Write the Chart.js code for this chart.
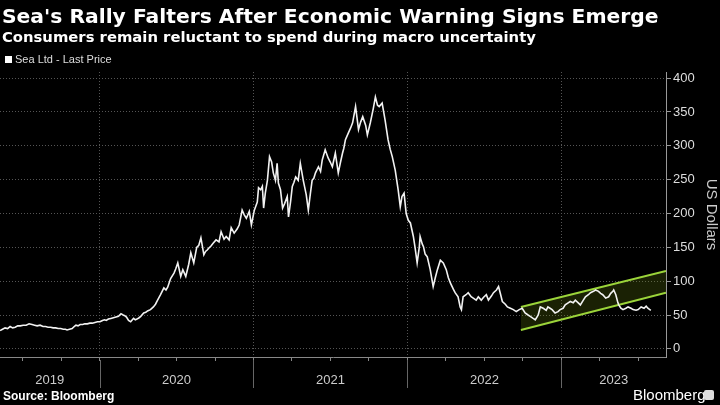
<!DOCTYPE html>
<html>
<head>
<meta charset="utf-8">
<script src="https://cdn.jsdelivr.net/npm/chart.js@4.4.0/dist/chart.umd.min.js"></script>
<style>
  body { margin: 0; background: #000; }
  #wrap { position: relative; width: 720px; height: 405px; overflow: hidden; background: #000; font-family: "Liberation Sans", Arial, sans-serif; color: #fff; }
  #chartBox { position: absolute; left: 0; top: 0; width: 720px; height: 405px; }
  .txt { position: absolute; white-space: nowrap; z-index: 2; }
  #title { left: 2px; top: 4px; font-family: "DejaVu Sans", sans-serif; font-size: 20.3px; font-weight: 700; }
  #subtitle { left: 2px; top: 28px; font-family: "DejaVu Sans", sans-serif; font-size: 14.8px; font-weight: 700; }
  #legend { left: 5px; top: 53px; font-size: 11px; color: #ddd; }
  #legend span { display: inline-block; width: 7px; height: 7px; background: #fff; margin-right: 3px; }
  #source { left: 3px; top: 389px; font-size: 12px; font-weight: 700; }
  #brand { left: 633px; top: 386px; font-size: 15px; font-weight: 500; }
  #logo { position: absolute; left: 704px; top: 390px; width: 10px; height: 10px; background: #ddd; border-radius: 2px; z-index: 2; }
</style>
</head>
<body>
<div id="wrap">
  <div class="txt" id="title">Sea's Rally Falters After Economic Warning Signs Emerge</div>
  <div class="txt" id="subtitle">Consumers remain reluctant to spend during macro uncertainty</div>
  <div class="txt" id="legend"><span></span>Sea Ltd - Last Price</div>
  <div class="txt" id="source">Source: Bloomberg</div>
  <div class="txt" id="brand">Bloomberg</div>
  <div id="logo"></div>
  <div id="chartBox"><canvas id="seaChart"></canvas></div>
</div>
<script>
// ===== DATA =====

const priceDates = [
  '2019-05-10','2019-05-16','2019-05-22','2019-05-28','2019-06-03','2019-06-09','2019-06-15','2019-06-21','2019-06-27','2019-07-04','2019-07-11','2019-07-18','2019-07-25','2019-07-31','2019-08-06','2019-08-13','2019-08-20','2019-08-26','2019-09-01','2019-09-07','2019-09-13','2019-09-19','2019-09-25','2019-10-01','2019-10-07','2019-10-12','2019-10-16','2019-10-22','2019-10-28','2019-11-02','2019-11-06','2019-11-11','2019-11-16','2019-11-22','2019-11-27','2019-12-03','2019-12-09','2019-12-15','2019-12-21','2019-12-27',
  '2020-01-02','2020-01-08','2020-01-13','2020-01-17','2020-01-22','2020-01-28','2020-02-03','2020-02-09','2020-02-15','2020-02-21','2020-02-26','2020-03-01','2020-03-05','2020-03-10','2020-03-15','2020-03-19','2020-03-22','2020-03-26','2020-03-30','2020-04-04','2020-04-08','2020-04-15','2020-04-20','2020-04-24','2020-05-01','2020-05-08','2020-05-13','2020-05-18','2020-05-25','2020-06-02','2020-06-07','2020-06-11','2020-06-18','2020-06-26','2020-06-30','2020-07-05','2020-07-12','2020-07-17','2020-07-24','2020-07-31','2020-08-05','2020-08-12','2020-08-19','2020-08-24','2020-08-29','2020-09-05','2020-09-09','2020-09-13','2020-09-17','2020-09-22','2020-09-27','2020-10-04','2020-10-11','2020-10-16','2020-10-23','2020-10-28','2020-11-04','2020-11-09','2020-11-16','2020-11-23','2020-11-28','2020-12-05','2020-12-10','2020-12-15','2020-12-22','2020-12-27',
  '2021-01-03','2021-01-06','2021-01-10','2021-01-13','2021-01-18','2021-01-22','2021-01-25','2021-01-29','2021-02-03','2021-02-08','2021-02-13','2021-02-17','2021-02-22','2021-02-26','2021-03-01','2021-03-06','2021-03-11','2021-03-16','2021-03-22','2021-03-25','2021-03-30','2021-04-03','2021-04-07','2021-04-11','2021-04-17','2021-04-22','2021-04-29','2021-05-06','2021-05-11','2021-05-16','2021-05-20','2021-05-24','2021-05-28','2021-06-04','2021-06-09','2021-06-13','2021-06-20','2021-06-27','2021-07-02','2021-07-07','2021-07-14','2021-07-21','2021-07-26','2021-07-31','2021-08-03','2021-08-07','2021-08-14','2021-08-19','2021-08-24','2021-08-31','2021-09-07','2021-09-12','2021-09-17','2021-09-24','2021-09-28','2021-10-05','2021-10-12','2021-10-17','2021-10-22','2021-10-26','2021-11-02','2021-11-09','2021-11-16','2021-11-21','2021-11-26','2021-12-03','2021-12-10','2021-12-15','2021-12-19','2021-12-24','2021-12-29',
  '2022-01-03','2022-01-08','2022-01-15','2022-01-19','2022-01-24','2022-01-29','2022-01-31','2022-02-05','2022-02-08','2022-02-12','2022-02-17','2022-02-24','2022-03-03','2022-03-08','2022-03-13','2022-03-20','2022-03-27','2022-04-03','2022-04-08','2022-04-13','2022-04-20','2022-04-24','2022-05-01','2022-05-06','2022-05-09','2022-05-13','2022-05-20','2022-05-25','2022-06-01','2022-06-06','2022-06-13','2022-06-18','2022-06-25','2022-06-30','2022-07-07','2022-07-12','2022-07-19','2022-07-24','2022-07-31','2022-08-05','2022-08-10','2022-08-14','2022-08-21','2022-08-26','2022-09-02','2022-09-09','2022-09-16','2022-09-23','2022-09-30','2022-10-07','2022-10-14','2022-10-19','2022-10-26','2022-10-31','2022-11-04','2022-11-07','2022-11-12','2022-11-19','2022-11-26','2022-11-30','2022-12-05','2022-12-10','2022-12-17','2022-12-24','2022-12-29',
  '2023-01-05','2023-01-10','2023-01-17','2023-01-22','2023-01-29','2023-02-03','2023-02-10','2023-02-15','2023-02-22','2023-02-27','2023-03-06','2023-03-11','2023-03-18','2023-03-23','2023-03-30','2023-04-04','2023-04-09','2023-04-16','2023-04-23','2023-04-28','2023-05-03','2023-05-05','2023-05-10','2023-05-15','2023-05-17','2023-05-22','2023-05-27','2023-06-03','2023-06-08','2023-06-15','2023-06-20','2023-06-27','2023-07-02','2023-07-09','2023-07-16','2023-07-21','2023-07-25','2023-08-01'
];

const prices = [
  27,29,31,30,33,31,32,34,34,35,35,37,36,35,34,35,33,33,32,32,31,31,30,30,29,29,28,29,30,33,35,34,36,36,37,37,38,38,39,40,
  40,42,43,42,44,45,46,47,48,52,50,49,47,42,40,43,45,43,44,46,48,53,54,56,58,62,66,72,80,90,87,91,104,112,118,127,107,117,107,125,142,127,150,153,164,139,144,146,149,152,156,161,158,173,162,166,161,179,171,177,183,205,198,193,203,183,
  205,210,217,238,235,240,208,230,249,284,276,260,249,274,245,235,208,215,225,195,218,240,246,254,249,274,249,228,205,230,249,252,260,269,262,279,294,282,276,269,289,260,275,289,296,309,319,326,334,358,324,335,343,330,316,334,355,372,360,358,363,338,309,295,284,264,235,210,225,230,200,
  190,186,166,150,127,150,166,155,151,140,136,117,92,105,117,131,127,117,105,97,88,83,77,62,58,77,80,83,77,75,72,77,72,76,80,72,78,83,87,92,80,70,66,62,60,58,55,58,60,53,50,48,45,43,47,50,62,60,57,62,60,58,53,55,58,
  60,65,68,70,68,72,68,65,72,77,80,83,85,87,85,82,80,75,77,82,85,87,80,68,65,60,58,60,62,60,58,57,58,62,60,63,60,57
];

// trend channel drawn on the chart
const channelDates = ['2022-09-27', '2023-09-06'];
const channelUpper = [62, 115];
const channelLower = [28, 83];

// axis range and ticks
const axisStart = '2019-05-10';
const axisEnd = '2023-09-06';
const yearLabels = ['2019', '2020', '2021', '2022', '2023'];
const yTicks = [0, 50, 100, 150, 200, 250, 300, 350, 400];

// ===== HELPERS =====

function toYear(s) {
  const d = new Date(s + 'T00:00:00Z');
  const y = d.getUTCFullYear();
  const a = Date.UTC(y, 0, 1), b = Date.UTC(y + 1, 0, 1);
  return y + (d.getTime() - a) / (b - a);
}

const pricePoints = priceDates.map((d, i) => ({ x: toYear(d), y: prices[i] }));
const upperPoints = channelDates.map((d, i) => ({ x: toYear(d), y: channelUpper[i] }));
const lowerPoints = channelDates.map((d, i) => ({ x: toYear(d), y: channelLower[i] }));

const isWhole = v => Math.abs(v - Math.round(v)) < 1e-6;

// ===== YEAR LABELS UNDER THE X AXIS =====

const yearAxisPlugin = {
  id: 'yearAxis',
  afterDraw(chart) {
    const { ctx, chartArea, scales: { x } } = chart;
    const top = chartArea.bottom;
    ctx.save();
    ctx.strokeStyle = '#666';
    ctx.lineWidth = 1;
    yearLabels.forEach(label => {
      const y0 = Number(label);
      const px0 = Math.max(x.getPixelForValue(y0), chartArea.left);
      const px1 = Math.min(x.getPixelForValue(y0 + 1), chartArea.right);
      if (y0 + 1 < x.max) {
        const sx = Math.round(x.getPixelForValue(y0 + 1)) + 0.5;
        ctx.beginPath();
        ctx.moveTo(sx, top + 3);
        ctx.lineTo(sx, top + 31);
        ctx.stroke();
      }
      ctx.fillStyle = '#ccc';
      ctx.font = '13px "Liberation Sans", Arial, sans-serif';
      ctx.textAlign = 'center';
      ctx.textBaseline = 'middle';
      ctx.fillText(label, (px0 + px1) / 2, top + 23);
    });
    ctx.restore();
  }
};

// ===== CHART =====

const ctx = document.getElementById('seaChart').getContext('2d');
const seaChart = new Chart(ctx, {
  type: 'line',
  data: {
    datasets: [
      {
        label: 'Sea Ltd - Last Price',
        data: pricePoints,
        borderColor: '#f2f2f2',
        borderWidth: 1.6,
        pointRadius: 0,
        tension: 0,
        fill: false
      },
      {
        label: 'lower',
        data: lowerPoints,
        borderColor: '#9bd43a',
        borderWidth: 2,
        pointRadius: 0,
        fill: false
      },
      {
        label: 'upper',
        data: upperPoints,
        borderColor: '#9bd43a',
        borderWidth: 2,
        pointRadius: 0,
        fill: '-1',
        backgroundColor: 'rgba(120, 150, 20, 0.22)'
      }
    ]
  },
  options: {
    responsive: true,
    maintainAspectRatio: false,
    animation: false,
    layout: { padding: { left: 0, right: 0, top: 72, bottom: 44 } },
    plugins: {
      legend: { display: false },
      tooltip: { enabled: false }
    },
    scales: {
      x: {
        type: 'linear',
        min: toYear(axisStart),
        max: toYear(axisEnd),
        afterBuildTicks: scale => {
          const t = [];
          for (let q = 2019; q <= 2024; q += 0.25) {
            if (q > scale.min && q < scale.max) t.push({ value: q });
          }
          scale.ticks = t;
        },
        ticks: { display: false },
        grid: {
          drawTicks: true,
          tickLength: 4,
          color: c => (c.tick && isWhole(c.tick.value)) ? '#555' : 'rgba(0,0,0,0)',
          tickColor: '#888'
        },
        border: { display: true, color: '#888', dash: [1, 2] }
      },
      y: {
        position: 'right',
        min: -12,
        max: 409,
        afterBuildTicks: scale => {
          const t = [];
          yTicks.forEach((v, i) => {
            t.push({ value: v });
            if (i < yTicks.length - 1) t.push({ value: v + 25 });
          });
          scale.ticks = t;
        },
        afterFit: scale => { scale.width = 54; },
        ticks: {
          color: '#ddd',
          font: { size: 13, family: '"Liberation Sans", Arial, sans-serif' },
          padding: 2,
          callback: v => (v % 50 === 0 ? String(v) : '')
        },
        grid: {
          tickLength: 5,
          color: c => (c.tick && c.tick.value % 50 === 0) ? '#555' : 'rgba(0,0,0,0)',
          tickColor: '#999'
        },
        border: { display: true, color: '#999', dash: [1, 2] },
        title: {
          display: true,
          text: 'US Dollars',
          color: '#ccc',
          font: { size: 15, family: '"Liberation Sans", Arial, sans-serif' },
          padding: 0
        }
      }
    }
  },
  plugins: [yearAxisPlugin]
});
</script>
</body>
</html>
